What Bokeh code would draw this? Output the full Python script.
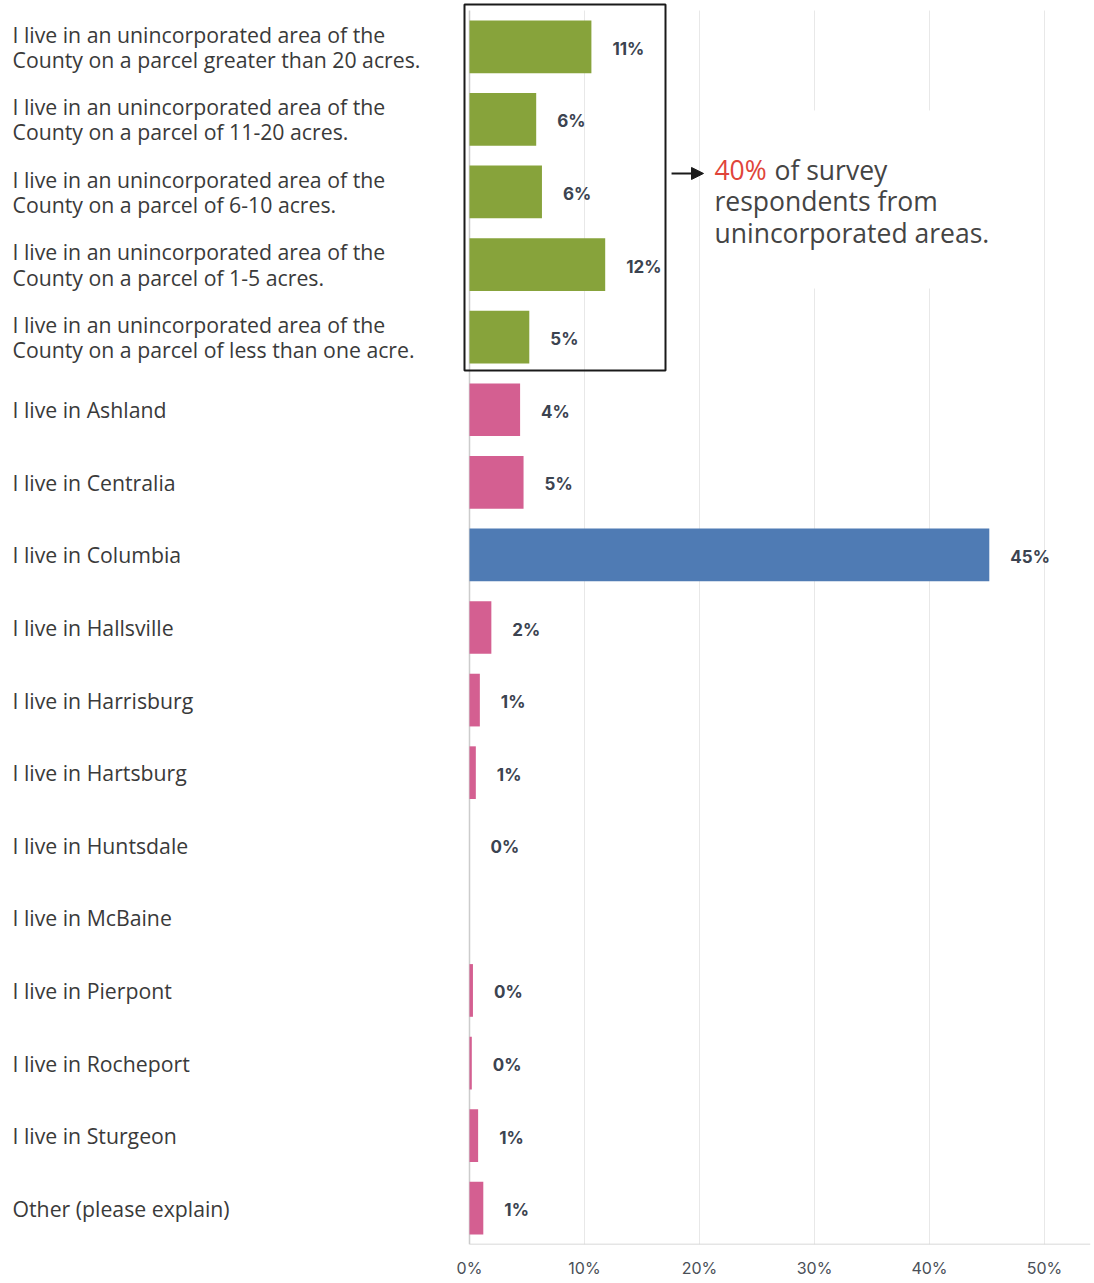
from bokeh.plotting import figure
from bokeh.models import (ColumnDataSource, Range1d, FixedTicker, PrintfTickFormatter,
                          Label, BoxAnnotation, Arrow, NormalHead)
from bokeh.transform import factor_cmap
from bokeh.core.properties import value
from bokeh.embed import file_html
from bokeh.resources import INLINE

# ---------------- data ----------------
categories = [
    "I live in an unincorporated area of the\nCounty on a parcel greater than 20 acres.",
    "I live in an unincorporated area of the\nCounty on a parcel of 11-20 acres.",
    "I live in an unincorporated area of the\nCounty on a parcel of 6-10 acres.",
    "I live in an unincorporated area of the\nCounty on a parcel of 1-5 acres.",
    "I live in an unincorporated area of the\nCounty on a parcel of less than one acre.",
    "I live in Ashland",
    "I live in Centralia",
    "I live in Columbia",
    "I live in Hallsville",
    "I live in Harrisburg",
    "I live in Hartsburg",
    "I live in Huntsdale",
    "I live in McBaine",
    "I live in Pierpont",
    "I live in Rocheport",
    "I live in Sturgeon",
    "Other (please explain)",
]
values = [10.6, 5.8, 6.3, 11.8, 5.2, 4.4, 4.7, 45.2, 1.9, 0.9, 0.55, 0.0, 0.0, 0.3, 0.2, 0.75, 1.2]
value_labels = ["11%", "6%", "6%", "12%", "5%", "4%", "5%", "45%", "2%", "1%", "1%",
                "0%", "", "0%", "0%", "1%", "1%"]
groups = ["unincorporated"] * 5 + ["town", "town", "columbia"] + ["town"] * 9
group_names = ["unincorporated", "town", "columbia"]
x_ticks = [0, 10, 20, 30, 40, 50]
highlight_text = "40%"
note_lines = ["of survey", "respondents from", "unincorporated areas."]

n = len(categories)
rows = list(range(n))
src = ColumnDataSource(dict(row=rows, category=categories, value=values,
                            label=value_labels, group=groups))

# ---------------- layout constants (pixels) ----------------
W, H = 1094, 1283
ZERO_PX = 469          # x pixel of 0%
RIGHT_PX = 1090        # right edge of plot area
TOP_GRID_PX = 10       # top of row area
BOTTOM_PX = 1244       # bottom axis line
PX_X = 11.5            # pixels per percent
PX_Y = (BOTTOM_PX - TOP_GRID_PX) / n   # pixels per row

x_lo = -ZERO_PX / PX_X
x_hi = (RIGHT_PX - ZERO_PX) / PX_X
y_top = -0.5 - TOP_GRID_PX / PX_Y
y_bot = n - 0.5

p = figure(width=W, height=H,
           x_range=Range1d(x_lo, x_hi), y_range=Range1d(y_bot, y_top),
           output_backend="svg", toolbar_location=None,
           min_border_left=0, min_border_right=W - RIGHT_PX,
           min_border_top=0, min_border_bottom=H - BOTTOM_PX)
p.outline_line_color = None
p.background_fill_color = "white"
p.yaxis.visible = False
p.xgrid.grid_line_color = None
p.ygrid.grid_line_color = None

# gridlines (from the tick list) and axis lines
p.segment(x0=x_ticks[1:], x1=x_ticks[1:], y0=-0.5, y1=y_bot,
          line_color="#e8e8e8", line_width=1, level="underlay")
p.segment(x0=[0], x1=[0], y0=-0.5, y1=y_bot, line_color="#cccccc", line_width=1.5)
p.segment(x0=[0], x1=[x_hi], y0=y_bot, y1=y_bot, line_color="#cccccc", line_width=1.5)

# bars
p.hbar(y="row", left=0, right="value", height=0.726, source=src,
       fill_color=factor_cmap("group", palette=["#87A33B", "#D45F91", "#4F7BB4"], factors=group_names),
       line_color=None)

# x axis ticks / labels
p.xaxis.ticker = FixedTicker(ticks=x_ticks)
p.xaxis.formatter = PrintfTickFormatter(format="%d%%")
p.xaxis.axis_line_color = None
p.xaxis.major_tick_line_color = None
p.xaxis.minor_tick_line_color = None
p.xaxis.major_label_text_font = "Inter"
p.xaxis.major_label_text_font_size = "16px"
p.xaxis.major_label_text_color = "#4a4f57"
p.xaxis.major_label_standoff = 7

# value labels
p.text(x="value", y="row", text="label", source=src, x_offset=21, y_offset=2,
       text_baseline="middle", text_font=value("Inter"), text_font_style="bold",
       text_font_size="17px", text_color="#3b4350")

# category labels (left side)
p.text(x=(12 - ZERO_PX) / PX_X, y="row", text="category", source=src,
       text_baseline="middle", text_align="left", text_font=value("Open Sans"),
       text_font_size="21.25px", text_color="#3a3a3a", text_line_height=0.87)

# annotation: box around unincorporated rows
n_unc = groups.count("unincorporated")
p.add_layout(BoxAnnotation(left=-5 / PX_X, right=196 / PX_X,
                           top=-0.5 - 6 / PX_Y, bottom=n_unc - 0.5 - 0.041,
                           fill_color=None, fill_alpha=0,
                           line_color="#1a1a1a", line_alpha=1.0, line_width=2))

# white backdrop behind note
p.add_layout(BoxAnnotation(left=20.5, right=46.2, top=0.877, bottom=3.33,
                           fill_color="white", fill_alpha=1.0, line_color=None))

p.add_layout(Arrow(end=NormalHead(size=12, fill_color="#1a1a1a", line_color="#1a1a1a"),
                   x_start=17.57, y_start=1.745, x_end=20.35, y_end=1.745,
                   line_color="#1a1a1a", line_width=2))

note_x = 21.3
note_font = "Open Sans"
p.add_layout(Label(x=note_x, y=1.70, text=highlight_text, text_baseline="middle",
                   text_font=note_font, text_font_size="26.5px", text_color="#e0443a"))
p.add_layout(Label(x=note_x, y=1.70, x_offset=60, text=note_lines[0], text_baseline="middle",
                   text_font=note_font, text_font_size="26.5px", text_color="#444444"))
p.add_layout(Label(x=note_x, y=2.131, text=note_lines[1], text_baseline="middle",
                   text_font=note_font, text_font_size="26.5px", text_color="#444444"))
p.add_layout(Label(x=note_x, y=2.572, text=note_lines[2], text_baseline="middle",
                   text_font=note_font, text_font_size="26.5px", text_color="#444444"))

open("out.html", "w").write(file_html(p, INLINE))
